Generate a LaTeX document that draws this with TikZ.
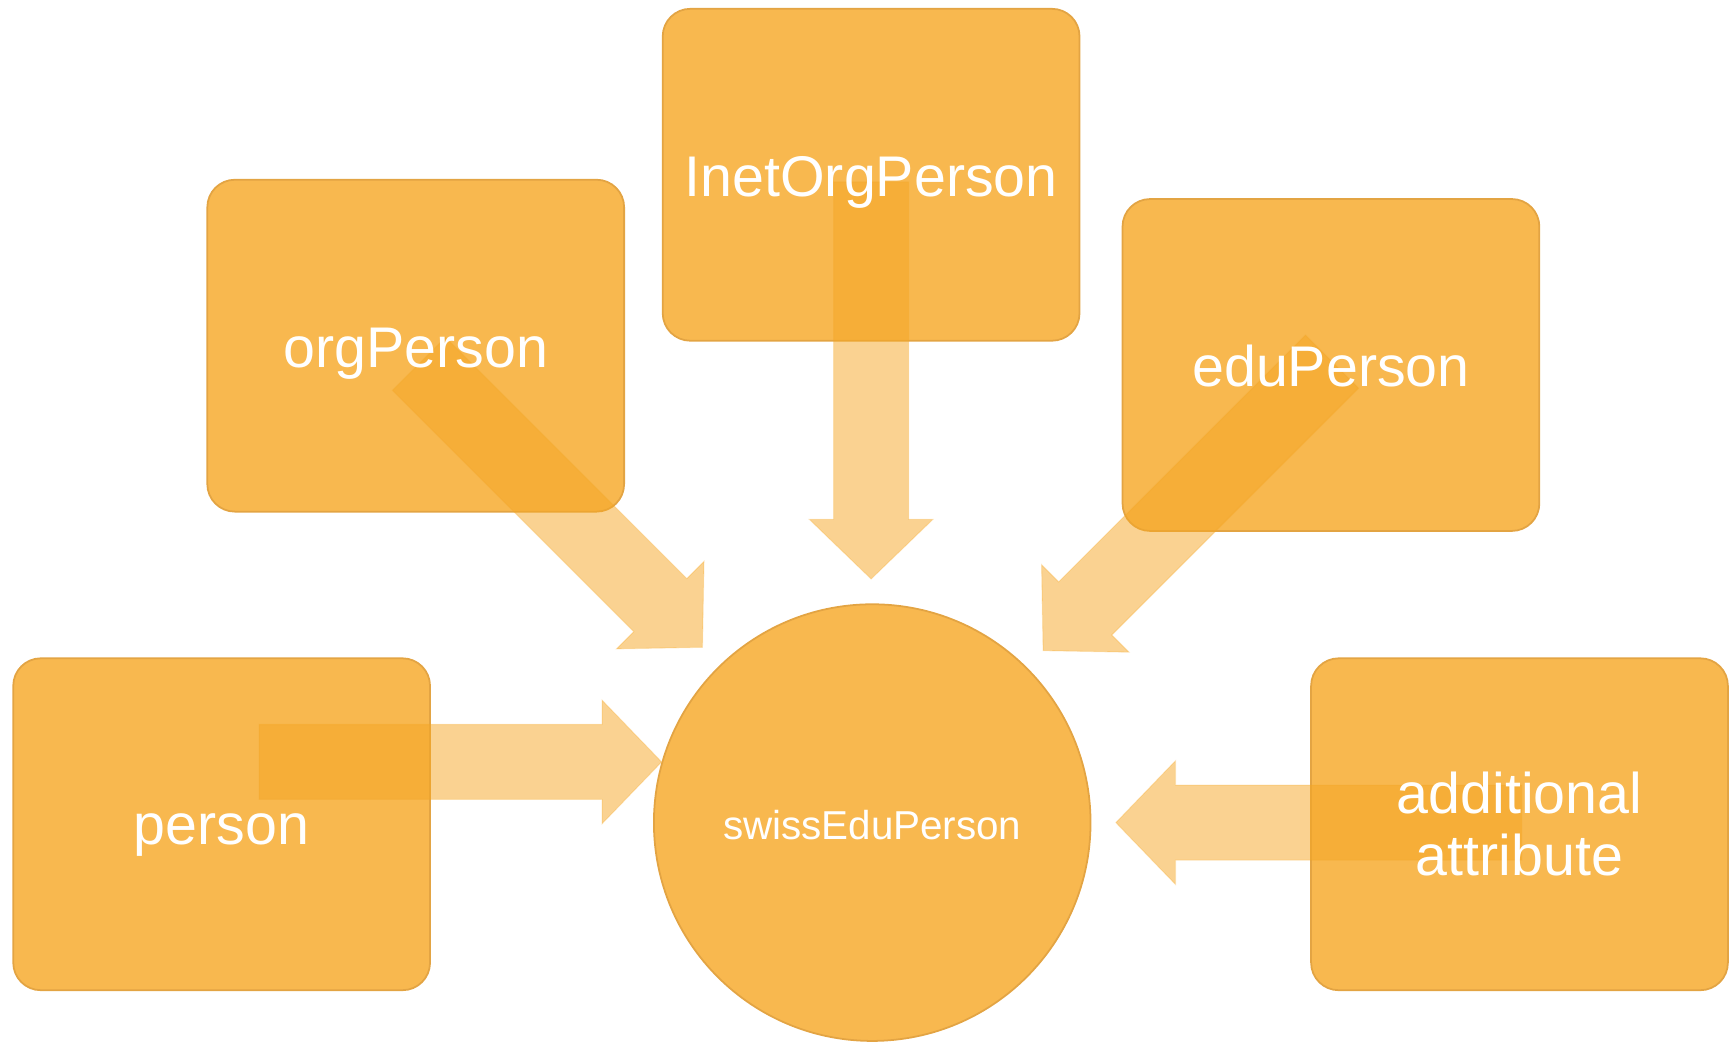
\documentclass[tikz,border=0pt]{standalone}
\usepackage{fontspec}
\setmainfont{Liberation Sans}
\usetikzlibrary{calc}

\definecolor{boxfill}{HTML}{F8B84F}
\definecolor{boxedge}{HTML}{E3A443}
\definecolor{arrowfill}{HTML}{F5A623}

% block arrow from tail #1 to tip #2
\newcommand{\blockarrow}[2]{%
  \path ($(#2)!27pt!(#1)$) coordinate (head);
  \filldraw[arrowfill,fill opacity=0.5,draw opacity=0.25,line width=0.5pt] ($(#1)!17pt!90:(#2)$) -- ($(head)!17pt!90:(#2)$) -- ($(head)!28pt!90:(#2)$) -- (#2)
    -- ($(head)!28pt!-90:(#2)$) -- ($(head)!17pt!-90:(#2)$) -- ($(#1)!17pt!-90:(#2)$) -- cycle;}

\begin{document}
\begin{tikzpicture}[x=0.5pt,y=-0.5pt,
  objbox/.style={draw=boxedge,line width=0.8pt,fill=boxfill,rounded corners=12.5pt,minimum width=189pt,minimum height=150.5pt},
  lbl/.style={text=white,font=\fontsize{26}{28}\selectfont,align=center},
  baselbl/.style={lbl,anchor=base,yshift=-9.75pt}]
	\useasboundingbox (0,0) rectangle (1568,946);

	\node[objbox] (person) at (201,747.5) {};
	\node[objbox] (org) at (377,313.5) {};
	\node[objbox] (inet) at (790,158.5) {};
	\node[objbox] (edu) at (1207,331) {};
	\node[objbox] (addl) at (1378,747.5) {};
	\node[circle,draw=boxedge,line width=0.8pt,fill=boxfill,minimum size=198pt] (swiss) at (791,746) {};

	\coordinate (persontail) at (235,691);
	\coordinate (persontip) at (600,691);
	\coordinate (orgtail) at (380,330);
	\coordinate (orgtip) at (637,587);
	\coordinate (inettail) at (790,165);
	\coordinate (inettip) at (790,525);
	\coordinate (edutail) at (1208,328);
	\coordinate (edutip) at (946,590);
	\coordinate (addltail) at (1380,746);
	\coordinate (addltip) at (1012,746);

	\blockarrow{persontail}{persontip}
	\blockarrow{orgtail}{orgtip}
	\blockarrow{inettail}{inettip}
	\blockarrow{edutail}{edutip}
	\blockarrow{addltail}{addltip}

	\node[baselbl,yshift=0.5pt] (personlbl) at (person) {person};
	\node[baselbl] (orglbl) at (org) {orgPerson};
	\node[baselbl] (inetlbl) at (inet) {InetOrgPerson};
	\node[baselbl] (edulbl) at (edu) {eduPerson};
	\node[lbl] (addllbl) at (addl) {additional\\attribute};
	\node[lbl,font=\fontsize{18.3}{20}\selectfont,anchor=base,yshift=-7.5pt] (swisslbl) at (swiss) {swissEduPerson};
\end{tikzpicture}
\end{document}
